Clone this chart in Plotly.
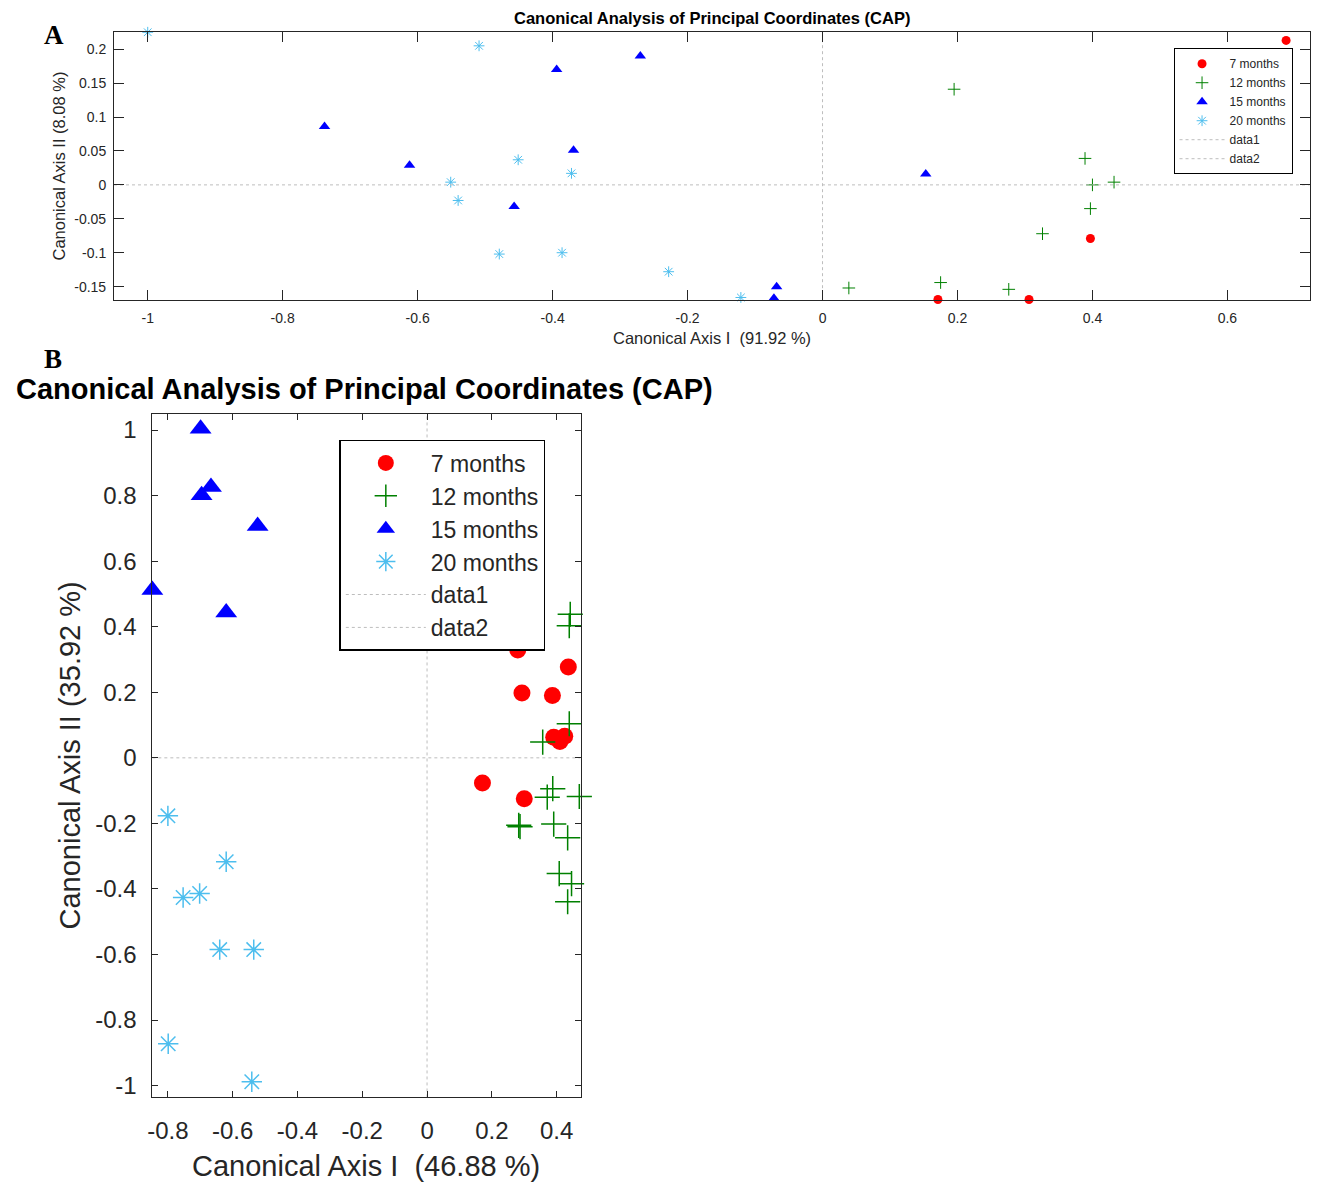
import plotly.graph_objects as go

# ---------------- Panel A data ----------------
a_7m_x = [0.687, 0.397, 0.171, 0.306]
a_7m_y = [0.213, -0.079, -0.169, -0.169]
a_12m_x = [0.195, 0.389, 0.400, 0.432, 0.397, 0.326, 0.175, 0.039, 0.276]
a_12m_y = [0.141, 0.039, 0.000, 0.004, -0.035, -0.072, -0.144, -0.152, -0.154]
a_15m_x = [-0.738, -0.612, -0.394, -0.270, -0.369, -0.457, 0.153, -0.068, -0.072]
a_15m_y = [0.086, 0.029, 0.170, 0.190, 0.051, -0.032, 0.016, -0.150, -0.167]
a_20m_x = [-1.000, -0.509, -0.451, -0.551, -0.540, -0.372, -0.479, -0.386, -0.228, -0.121]
a_20m_y = [0.225, 0.205, 0.037, 0.004, -0.023, 0.017, -0.102, -0.100, -0.128, -0.166]
a_xrange = [-1.05, 0.722]
a_yrange = [-0.170, 0.225]
a_xticks = [-1, -0.8, -0.6, -0.4, -0.2, 0, 0.2, 0.4, 0.6]
a_xticklabels = ["-1", "-0.8", "-0.6", "-0.4", "-0.2", "0", "0.2", "0.4", "0.6"]
a_yticks = [-0.15, -0.1, -0.05, 0, 0.05, 0.1, 0.15, 0.2]
a_yticklabels = ["-0.15", "-0.1", "-0.05", "0", "0.05", "0.1", "0.15", "0.2"]

# ---------------- Panel B data ----------------
b_7m_x = [0.280, 0.436, 0.293, 0.387, 0.391, 0.410, 0.425, 0.171, 0.300]
b_7m_y = [0.329, 0.277, 0.198, 0.190, 0.063, 0.050, 0.066, -0.077, -0.125]
b_12m_x = [0.442, 0.439, 0.439, 0.357, 0.388, 0.371, 0.470, 0.283, 0.287, 0.391, 0.434, 0.408, 0.446, 0.434]
b_12m_y = [0.438, 0.403, 0.104, 0.048, -0.094, -0.120, -0.118, -0.206, -0.210, -0.202, -0.244, -0.353, -0.384, -0.439]
b_15m_x = [-0.699, -0.696, -0.667, -0.523, -0.848, -0.620]
b_15m_y = [1.004, 0.801, 0.826, 0.707, 0.512, 0.443]
b_20m_x = [-0.800, -0.620, -0.753, -0.702, -0.640, -0.535, -0.799, -0.541]
b_20m_y = [-0.177, -0.317, -0.426, -0.414, -0.585, -0.585, -0.872, -0.988]
b_xrange = [-0.848, 0.474]
b_yrange = [-1.036, 1.048]
b_xticks = [-0.8, -0.6, -0.4, -0.2, 0, 0.2, 0.4]
b_xticklabels = ["-0.8", "-0.6", "-0.4", "-0.2", "0", "0.2", "0.4"]
b_yticks = [-1, -0.8, -0.6, -0.4, -0.2, 0, 0.2, 0.4, 0.6, 0.8, 1]
b_yticklabels = ["-1", "-0.8", "-0.6", "-0.4", "-0.2", "0", "0.2", "0.4", "0.6", "0.8", "1"]

series_names = ["7 months", "12 months", "15 months", "20 months"]
title_text = "Canonical Analysis of Principal Coordinates (CAP)"

RED = "#FF0000"
GREEN = "#008000"
BLUE = "#0000FF"
LBLUE = "#4DBEEE"
TXT = "#262626"
FONT = "Liberation Sans, Arial, sans-serif"

W, H = 1317, 1186

def px_x(p):
    return p / W

def px_y(p):
    return 1 - p / H

fig = go.Figure()

def add_panel(xs, ys, xa, ya, legend, sizes, xr, yr):
    (x7, x12, x15, x20) = xs
    (y7, y12, y15, y20) = ys
    s_c, s_p, s_t, s_a, lw = sizes
    fig.add_trace(go.Scatter(x=x7, y=y7, mode="markers", name=series_names[0],
                             xaxis=xa, yaxis=ya, legend=legend, cliponaxis=False,
                             marker=dict(symbol="circle", size=s_c, color=RED, line=dict(width=0))))
    fig.add_trace(go.Scatter(x=x12, y=y12, mode="markers", name=series_names[1],
                             xaxis=xa, yaxis=ya, legend=legend, cliponaxis=False,
                             marker=dict(symbol="cross-thin-open", size=s_p, color=GREEN,
                                         line=dict(width=lw, color=GREEN))))
    fig.add_trace(go.Scatter(x=x15, y=y15, mode="markers", name=series_names[2],
                             xaxis=xa, yaxis=ya, legend=legend, cliponaxis=False,
                             marker=dict(symbol="triangle-up", size=s_t, color=BLUE, line=dict(width=0))))
    fig.add_trace(go.Scatter(x=x20, y=y20, mode="markers", name=series_names[3],
                             xaxis=xa, yaxis=ya, legend=legend, cliponaxis=False,
                             marker=dict(symbol="asterisk-open", size=s_a, color=LBLUE,
                                         line=dict(width=lw, color=LBLUE))))
    fig.add_trace(go.Scatter(x=xr, y=[0, 0], mode="lines", name="data1",
                             xaxis=xa, yaxis=ya, legend=legend,
                             line=dict(color="#BDBDBD", width=1, dash="dot")))
    fig.add_trace(go.Scatter(x=[0, 0], y=yr, mode="lines", name="data2",
                             xaxis=xa, yaxis=ya, legend=legend,
                             line=dict(color="#BDBDBD", width=1, dash="dot")))

add_panel((a_7m_x, a_12m_x, a_15m_x, a_20m_x), (a_7m_y, a_12m_y, a_15m_y, a_20m_y),
          "x", "y", "legend", (9, 9, 10, 9, 1), a_xrange, a_yrange)
add_panel((b_7m_x, b_12m_x, b_15m_x, b_20m_x), (b_7m_y, b_12m_y, b_15m_y, b_20m_y),
          "x2", "y2", "legend2", (17, 18, 19, 17, 1.5), b_xrange, b_yrange)

def axis(domain, rng, tv, tt, anchor, fs, tl, standoff):
    return dict(domain=domain, range=rng, tickvals=tv, ticktext=tt, anchor=anchor,
                showgrid=False, zeroline=False, showline=True, mirror="ticks",
                linecolor=TXT, linewidth=1, ticks="inside", ticklen=tl, tickcolor=TXT,
                tickfont=dict(family=FONT, size=fs, color=TXT),
                ticklabelstandoff=standoff)

layout = dict(
    width=W, height=H,
    margin=dict(l=0, r=0, t=0, b=0),
    paper_bgcolor="white", plot_bgcolor="white",
    showlegend=True,
    xaxis=axis([px_x(109.4), px_x(1309.7)], a_xrange, a_xticks, a_xticklabels, "y", 14, 10, 5),
    yaxis=axis([px_y(300.7), px_y(32.3)], a_yrange, a_yticks, a_yticklabels, "x", 14, 10, 4),
    xaxis2=axis([px_x(147.9), px_x(577.8)], b_xrange, b_xticks, b_xticklabels, "y2", 24, 6, 12),
    yaxis2=axis([px_y(1099.3), px_y(415)], b_yrange, b_yticks, b_yticklabels, "x2", 24, 6, 10),
    legend=dict(x=px_x(1173), y=px_y(48.3), xanchor="left", yanchor="top",
                bgcolor="white", bordercolor="#000000", borderwidth=1,
                itemwidth=45,
                font=dict(family=FONT, size=12, color=TXT), tracegroupgap=0),
    legend2=dict(x=px_x(335.6), y=px_y(440.7), xanchor="left", yanchor="top",
                 bgcolor="white", bordercolor="#000000", borderwidth=1.5,
                 itemwidth=80,
                 font=dict(family=FONT, size=23, color=TXT), tracegroupgap=0),
)

annotations = [
    dict(text="<b>" + title_text + "</b>", x=px_x(710), y=px_y(18), xref="paper", yref="paper",
         xanchor="center", yanchor="middle", showarrow=False,
         font=dict(family=FONT, size=16.5, color="#000000")),
    dict(text="Canonical Axis I\u00a0 (91.92 %)", x=px_x(710), y=px_y(339), xref="paper", yref="paper",
         xanchor="center", yanchor="middle", showarrow=False,
         font=dict(family=FONT, size=16.5, color=TXT)),
    dict(text="Canonical Axis II (8.08 %)", x=px_x(54), y=px_y(166), xref="paper", yref="paper",
         xanchor="center", yanchor="middle", showarrow=False, textangle=-90,
         font=dict(family=FONT, size=16.5, color=TXT)),
    dict(text="<b>" + title_text + "</b>", x=px_x(361), y=px_y(390), xref="paper", yref="paper",
         xanchor="center", yanchor="middle", showarrow=False,
         font=dict(family=FONT, size=29, color="#000000")),
    dict(text="Canonical Axis I\u00a0 (46.88 %)", x=px_x(362), y=px_y(1168), xref="paper", yref="paper",
         xanchor="center", yanchor="middle", showarrow=False,
         font=dict(family=FONT, size=29, color=TXT)),
    dict(text="Canonical Axis II (35.92 %)", x=px_x(65), y=px_y(757), xref="paper", yref="paper",
         xanchor="center", yanchor="middle", showarrow=False, textangle=-90,
         font=dict(family=FONT, size=29, color=TXT)),
    dict(text="<b>A</b>", x=px_x(49), y=px_y(35), xref="paper", yref="paper",
         xanchor="center", yanchor="middle", showarrow=False,
         font=dict(family="Liberation Serif, Times New Roman, serif", size=27, color="#000000")),
    dict(text="<b>B</b>", x=px_x(48), y=px_y(360), xref="paper", yref="paper",
         xanchor="center", yanchor="middle", showarrow=False,
         font=dict(family="Liberation Serif, Times New Roman, serif", size=27, color="#000000")),
]
layout["annotations"] = annotations

fig.update_layout(**layout)
fig.write_html("out.html")
